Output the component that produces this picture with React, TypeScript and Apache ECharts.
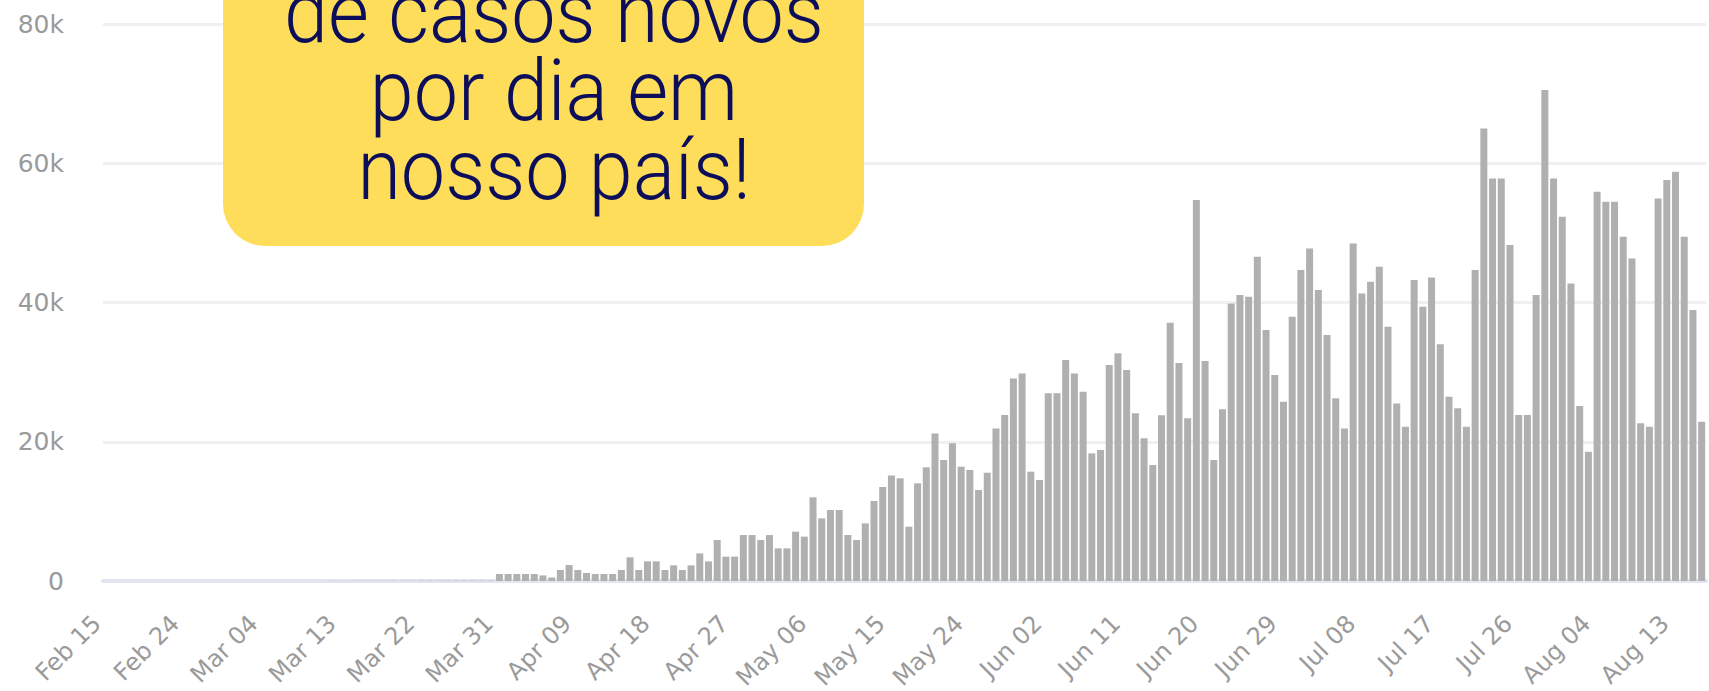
import React, { useEffect, useRef } from "react";
import * as echarts from "echarts";

// Daily new cases, Feb 15 .. Aug 16
const febValues = [0, 0, 0, 0, 0, 0, 0, 0, 0, 0, 0, 1, 0, 0, 1]; // Feb 15-29
const marValues = [
  0, 0, 0, 0, 1, 5, 5, 0, 6, 5, 9, 20, 15, 18, 25, 22, 28, 35, 40, 45,
  42, 50, 55, 48, 52, 60, 65, 60, 58, 62, 1005,
]; // Mar 1-31
const aprValues = [
  1005, 1005, 1005, 1005, 800, 500, 1580, 2300, 1580, 1150, 1005, 1005, 1005,
  1580, 3400, 1580, 2820, 2820, 1580, 2250, 1580, 2250, 3970, 2820, 5890, 3500,
  3500, 6600, 6600, 5890,
]; // Apr 1-30
const mayValues = [
  6600, 4690, 4690, 7080, 6370, 12020, 9000, 10200, 10200, 6610, 5890, 8280,
  11490, 13500, 15150, 14750, 7800, 14030, 16330, 21200, 17380, 19770, 16420,
  15940, 13070, 15550, 21920, 23840, 29100, 29820, 15700,
]; // May 1-31
const junValues = [
  14500, 26950, 26950, 31740, 29820, 27190, 18330, 18810, 31020, 32700, 30300,
  24080, 20490, 16660, 23800, 37100, 31300, 23360, 54710, 31600, 17380, 24650,
  39870, 41070, 40830, 46570, 36040, 29580, 25750, 37960,
]; // Jun 1-30
const julValues = [
  44660, 47770, 41790, 35330, 26230, 21920, 48490, 41310, 42980, 45140, 36520,
  25510, 22160, 43220, 39390, 43580, 34000, 26470, 24800, 22160, 44660, 65000,
  57820, 57820, 48250, 23840, 23840, 41070, 70510, 57820, 52320,
]; // Jul 1-31
const augValues = [
  42740, 25130, 18570, 55910, 54470, 54470, 49450, 46330, 22640, 22160, 54950,
  57580, 58780, 49450, 38920, 22880,
]; // Aug 1-16

const monthNames = ["Feb", "Mar", "Apr", "May", "Jun", "Jul", "Aug"];
const monthFirstDay = [15, 1, 1, 1, 1, 1, 1];
const monthValues = [febValues, marValues, aprValues, mayValues, junValues, julValues, augValues];

const yTicks = [0, 20000, 40000, 60000, 80000];
const calloutLines = ["de casos novos", "por dia em", "nosso país!"];

const categories: string[] = [];
const values: number[] = [];
monthValues.forEach((arr, m) => {
  arr.forEach((v, j) => {
    categories.push(`${monthNames[m]} ${String(monthFirstDay[m] + j).padStart(2, "0")}`);
    values.push(v);
  });
});

export default function App() {
  const ref = useRef<HTMLDivElement>(null);
  useEffect(() => {
    if (!ref.current) return;
    const chart = echarts.init(ref.current, undefined, { renderer: "svg" });
    const labelFont = "DejaVu Sans";
    const lineYs = [13, 91, 170];
    chart.setOption({
      animation: false,
      backgroundColor: "#ffffff",
      grid: {
        left: 103,
        right: 3,
        top: 24,
        bottom: 110,
        containLabel: false,
        outerBoundsMode: "none",
      },
      xAxis: {
        type: "category",
        data: categories,
        boundaryGap: true,
        axisLine: { lineStyle: { color: "#e1e5f0", width: 4 } },
        axisTick: { show: false },
        axisLabel: {
          interval: 8,
          rotate: 45,
          color: "#9a9a9a",
          fontSize: 24,
          fontFamily: labelFont,
          margin: 28,
          padding: [0, 15, 0, 0],
        },
      },
      yAxis: {
        type: "value",
        min: yTicks[0],
        max: yTicks[yTicks.length - 1],
        interval: yTicks[1] - yTicks[0],
        axisLine: { show: false },
        axisTick: { show: false },
        axisLabel: {
          formatter: (v: number) => (v === 0 ? "0" : `${v / 1000}k`),
          color: "#9a9a9a",
          fontSize: 25,
          fontFamily: labelFont,
          margin: 39,
        },
        splitLine: { lineStyle: { color: "#f0f0f0", width: 3 } },
      },
      series: [
        {
          type: "bar",
          data: values,
          barWidth: 7,
          itemStyle: { color: "#b0b0b0" },
        },
      ],
      graphic: [
        {
          type: "rect",
          z: 100,
          shape: { x: 223, y: -80, width: 641, height: 326, r: 42 },
          style: { fill: "#fedd5a" },
        },
        ...calloutLines.map((t, i) => ({
          type: "text",
          z: 101,
          x: 554,
          y: lineYs[i],
          scaleX: 0.93,
          style: {
            text: t,
            fill: "#0c0e5a",
            fontSize: 85,
            fontFamily: "Roboto",
            fontWeight: 300,
            align: "center",
            verticalAlign: "middle",
            textAlign: "center",
            textVerticalAlign: "middle",
          },
        })),
      ],
    });
    return () => chart.dispose();
  }, []);
  return (
    <div
      ref={ref}
      style={{ position: "fixed", left: 0, top: 0, width: 1709, height: 691, background: "#fff" }}
    />
  );
}
